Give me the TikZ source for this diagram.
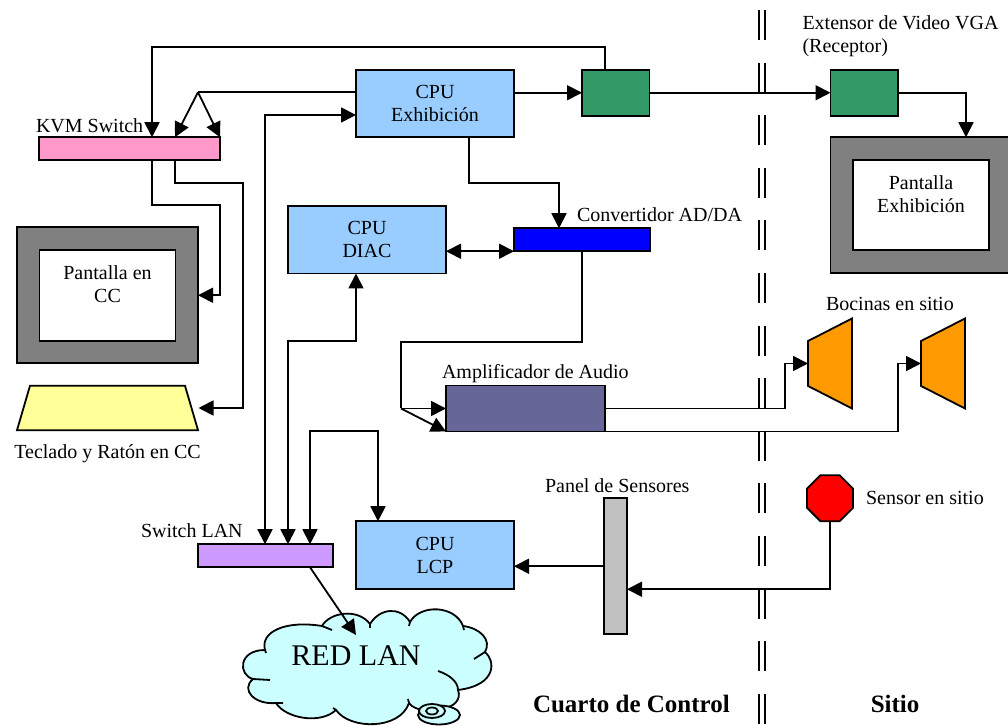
\documentclass[tikz,border=0pt]{standalone}
\usepackage{fontspec}
\setmainfont{Liberation Serif}
\usepackage{xcolor}
\usetikzlibrary{positioning,arrows.meta,shapes.geometric}
\definecolor{vkvm}{RGB}{255,153,204}
\definecolor{vcpu}{RGB}{153,204,255}
\definecolor{vgreen}{RGB}{51,153,102}
\definecolor{vamp}{RGB}{102,102,153}
\definecolor{vorange}{RGB}{255,153,0}
\definecolor{vlan}{RGB}{204,153,255}
\definecolor{vpanel}{RGB}{192,192,192}
\definecolor{vscreen}{RGB}{128,128,128}
\definecolor{vkeys}{RGB}{255,255,153}
\definecolor{vcloud}{RGB}{204,255,255}
\begin{document}
\begin{tikzpicture}[x=0.5pt,y=-0.5pt,line width=.9pt,font=\fontsize{10}{11.5}\selectfont,
    boxsty/.style={draw,inner sep=0pt,outer sep=0pt,align=center},
    cpubox/.style={boxsty,fill=vcpu,minimum width=79pt,minimum height=33.75pt},
    greenbox/.style={boxsty,fill=vgreen,minimum width=33.75pt,minimum height=23pt},
    barbox/.style={boxsty,minimum height=11.5pt},
    screenbox/.style={boxsty,fill=vscreen,minimum width=90.5pt,minimum height=68pt},
    innerbox/.style={boxsty,fill=white,minimum width=68pt,minimum height=45.5pt},
    spkbox/.style={boxsty,inner sep=1pt,trapezium,fill=vorange,shape border rotate=90,trapezium angle=63.4,trapezium stretches=true,minimum width=45pt,minimum height=22pt},
    txt/.style={inner sep=0pt,outer sep=0pt,align=left},
    link/.style={-{Triangle[length=7.5pt,width=7.5pt]}},
    twoway/.style={{Triangle[length=7.5pt,width=7.5pt]}-{Triangle[length=7.5pt,width=7.5pt]}},
    divider/.style={line width=1pt,dash pattern=on 15pt off 11.3pt}]
    \useasboundingbox (0,0) rectangle (1008,726);
    % boxes
    \node[cpubox] (cpuexh) at (435,103.5) {CPU\\Exhibición};
    \node[greenbox,right=34pt of cpuexh.north east,anchor=north west] (greena) {};
    \node[greenbox,right=90.5pt of greena.north east,anchor=north west] (greenb) {};
    \node[screenbox,below=10.75pt of greenb.south west,anchor=north west] (pantexh) {};
    \node[innerbox,minimum height=45pt] (pantexhin) at (pantexh.center) {Pantalla\\Exhibición\\\phantom{x}};
    \node[barbox,fill=blue,minimum width=68pt,below=45.5pt of cpuexh.south east,anchor=north west] (conv) {};
    \node[cpubox,left=34pt of conv] (diac) {CPU\\DIAC};
    \node[barbox,fill=vkvm,minimum width=90.5pt,left=68pt of cpuexh.south west,anchor=north east] (kvm) {};
    \node[screenbox,below left=33.5pt and 11pt of kvm.south west,anchor=north west] (pantcc) {};
    \node[innerbox] (pantccin) at (pantcc.center) {Pantalla en\\CC\\\phantom{x}};
    \node[boxsty,inner sep=1pt,trapezium,fill=vkeys,trapezium left angle=85.2,trapezium right angle=85.2,trapezium stretches=true,minimum width=90.5pt,minimum height=22.25pt,below=11.25pt of pantcc] (keys) {};
    \node[boxsty,fill=vamp,minimum width=79.5pt,minimum height=23pt,below=56pt of diac.south east,anchor=north west] (ampl) {};
    \node[spkbox,above right=11pt and 101.5pt of ampl.north east,anchor=west] (spka) {};
    \node[spkbox,right=34.5pt of spka] (spkb) {};
    \node[cpubox,below=192pt of cpuexh] (lcp) {CPU\\LCP};
    \node[barbox,fill=vlan,minimum width=67.5pt,below left=11.5pt and 11.5pt of lcp.north west,anchor=north east] (lan) {};
    \node[boxsty,fill=vpanel,minimum width=11.5pt,minimum height=68pt,above right=11.5pt and 45pt of lcp.north east,anchor=north west] (panel) {};
    \node[boxsty,regular polygon,regular polygon sides=8,fill=red,minimum size=24.9pt,right=101.5pt of panel.north east,anchor=center] (sensor) {};
    % cloud
    \draw[fill=vcloud] (265,650) .. controls (260,632) and (285,620) .. (322,626)
      .. controls (330,612) and (358,608) .. (370,624)
      .. controls (380,608) and (400,606) .. (410,622)
      .. controls (420,604) and (455,605) .. (463,626)
      .. controls (480,628) and (492,640) .. (485,652)
      .. controls (495,660) and (498,685) .. (458,690)
      .. controls (462,700) and (452,708) .. (445,707)
      .. controls (435,712) and (415,712) .. (409,703)
      .. controls (400,730) and (350,730) .. (336,710)
      .. controls (320,725) and (285,718) .. (276,703)
      .. controls (255,705) and (240,690) .. (253,679)
      .. controls (238,675) and (238,650) .. (265,650) -- cycle;
    \draw (322,626) -- (332,630) (370,624) -- (370,628) (410,622) -- (409,626) (463,626) -- (464,630)
      (485,652) -- (474,659) (409,703) -- (408,699) (336,710) -- (333,708) (276,703) -- (283,703)
      (253,679) -- (270,680) (265,650) -- (266,653);
    \draw (438,671) .. controls (450,675) and (458,682) .. (458,690);
    \draw[fill=vcloud] (439,715) ellipse [x radius=10.5pt,y radius=4.75pt];
    \draw[fill=vcloud] (432,711) ellipse [x radius=6.5pt,y radius=3.5pt];
    \draw[fill=vcloud] (432,711) ellipse [x radius=3pt,y radius=1.75pt];
    \node[txt,font=\fontsize{15}{18}\selectfont,minimum height=21pt] (redlan) at (356,656) {RED LAN};
    % labels
    \node[txt,above left=6pt and 1.5pt of kvm.north west,anchor=west] (kvmtxt) {KVM Switch};
    \node[txt,above left=17pt and 14pt of greenb.north west,anchor=west] (exttxt) {Extensor de Video VGA\\(Receptor)};
    \node[txt,above right=7pt and 31.5pt of conv.north west,anchor=west] (convtxt) {Convertidor AD/DA};
    \node[txt,above right=30pt and 9pt of spka.west,anchor=west] (bocinas) {Bocinas en sitio};
    \node[txt,above left=6pt and 2pt of ampl.north west,anchor=west] (amptxt) {Amplificador de Audio};
    \node[txt,below=11.5pt of keys.south,anchor=center] (keystxt) {Teclado y Ratón en CC};
    \node[txt,above left=7pt and 28.5pt of lan.north west,anchor=west] (lantxt) {Switch LAN};
    \node[txt,above left=6.5pt and 29.5pt of panel.north west,anchor=west] (paneltxt) {Panel de Sensores};
    \node[txt,right=6.5pt of sensor] (sensortxt) {Sensor en sitio};
    \node[txt,font=\fontsize{12.5}{15}\bfseries,below right=57.5pt and 9.5pt of lcp.south east,anchor=west] (cuarto) {Cuarto de Control};
    \node[txt,font=\fontsize{12.5}{15}\bfseries,right=70.5pt of cuarto] (sitio) {Sitio};
    % joints
    \coordinate[above left=22.5pt and 11pt of kvm.north east] (kvmfork);
    \coordinate[left=22.5pt of ampl.west] (ampjoin);
    % room divider
    \draw[divider] (759,10) -- (759,726);
    \draw[divider] (765,10) -- (765,726);
    % connectors
    \draw[link] (cpuexh.east |- greena.west) -- (greena.west);
    \draw[link] (greena.east) -- (greenb.west);
    \draw[link] (greenb.east) -| ([xshift=22.5pt]pantexh.north);
    \draw[link] ([xshift=11.5pt]greena.north west) -- ++(0,11.5pt) -| ([xshift=-34pt]kvm.north east);
    \draw (cpuexh.west |- kvmfork) -- (kvmfork);
    \draw[link] (kvmfork) -- ([xshift=-22.5pt]kvm.north east);
    \draw[link] (kvmfork) -- (kvm.north east);
    \draw[link] ([xshift=-34pt]kvm.south east) -- ++(0,-22.5pt) -- ++(34pt,0) |- (pantcc.east);
    \draw[link] ([xshift=-22.5pt]kvm.south east) -- ++(0,-11.5pt) -- ++(34pt,0) |- ([xshift=3.5pt]keys.east);
    \draw[link] ([xshift=17pt]cpuexh.south) -- ++(0,-23pt) -| ([xshift=22.5pt]conv.north west);
    \draw[twoway] (diac.east |- conv.south west) -- (conv.south west);
    \draw ([xshift=34pt]conv.south west) -- ++(0,-45.5pt) -| (ampjoin);
    \draw[link] (ampjoin) -- (ampl.west);
    \draw[link] (ampjoin) -- (ampl.south west);
    \draw[link] (ampl.east) -- ++(90pt,0) |- (spka.west);
    \draw[link] (ampl.south east) -- ++(146.5pt,0) |- (spkb.west);
    \draw[twoway] ([xshift=33.5pt]lan.north west) |- ([yshift=-5.75pt]cpuexh.west);
    \draw[twoway] ([xshift=45pt]lan.north west) -- ++(0,101.5pt) -| ([xshift=-5.5pt]diac.south);
    \draw[twoway] ([xshift=56pt]lan.north west) -- ++(0,56.5pt) -| ([xshift=-28.5pt]lcp.north);
    \draw[link] ([xshift=56pt]lan.south west) -- (redlan.north);
    \draw[link] (panel.west) -- (panel.west -| lcp.east);
    \draw[link] (sensor.south) |- ([yshift=-11.5pt]panel.east);
  \end{tikzpicture}
\end{document}
